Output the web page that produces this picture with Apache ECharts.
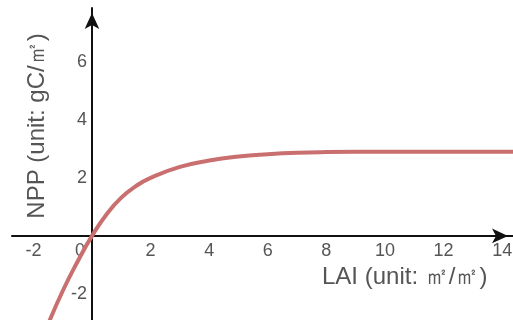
<!DOCTYPE html>
<html>
<head>
<meta charset="utf-8">
<script src="https://cdn.jsdelivr.net/npm/echarts@6/dist/echarts.min.js"></script>
<style>
  html, body { margin: 0; padding: 0; background: #fff; }
  #chart { width: 513px; height: 320px; }
</style>
</head>
<body>
<div id="chart"></div>
<script>
// NPP response to leaf area index (sampled points along the curve)
const lai = [-1.5, -1, -0.5, 0, 0.5, 1, 1.5, 2, 3, 4, 5, 6, 7, 8, 10, 12, 14.5];
const npp = [-3.05, -1.9, -0.9, 0, 0.75, 1.32, 1.72, 2.0, 2.38, 2.6, 2.74, 2.82, 2.87, 2.89, 2.9, 2.9, 2.9];

const xTicks = [-2, 0, 2, 4, 6, 8, 10, 12, 14];
const yTicks = [-2, 2, 4, 6];

const xTitle = 'LAI (unit: ㎡/㎡)';
const yTitle = 'NPP (unit: gC/㎡)';

const FONT = 'Liberation Sans, Arial, sans-serif';

const chart = echarts.init(document.getElementById('chart'), null, { renderer: 'canvas' });

const labelStyle = { color: '#555', fontSize: 18, fontFamily: FONT };

// plot area and value ranges; the axes cross at the origin
const GRID = { left: 12, right: 0, top: 8, bottom: 0 };
const X_RANGE = [-2.73, 14.37];
const Y_RANGE = [-2.9, 7.86];
const W = 513 - GRID.left - GRID.right;
const H = 320 - GRID.top - GRID.bottom;
const originX = GRID.left + W * (0 - X_RANGE[0]) / (X_RANGE[1] - X_RANGE[0]);
const originY = GRID.top + H * (Y_RANGE[1] - 0) / (Y_RANGE[1] - Y_RANGE[0]);

const arrowLine = {
  onZero: false,
  lineStyle: { color: '#111', width: 2 },
  symbol: ['none', 'arrow'],
  symbolSize: [11, 16],
  symbolOffset: [0, -5]
};

chart.setOption({
  animation: false,
  backgroundColor: '#fff',
  grid: Object.assign({ containLabel: false, outerBoundsMode: 'none' }, GRID),
  xAxis: {
    type: 'value',
    position: 'bottom',
    offset: -(320 - GRID.bottom - originY),
    min: X_RANGE[0],
    max: X_RANGE[1],
    axisLine: arrowLine,
    axisTick: { show: false },
    splitLine: { show: false },
    axisLabel: Object.assign({}, labelStyle, {
      customValues: xTicks,
      margin: 6,
      formatter: v => (v === 0 ? '{z|0}' : String(v)),
      rich: { z: Object.assign({}, labelStyle, { padding: [0, 24, 0, 0] }) }
    })
  },
  yAxis: {
    type: 'value',
    position: 'left',
    offset: -(originX - GRID.left),
    min: Y_RANGE[0],
    max: Y_RANGE[1],
    axisLine: arrowLine,
    axisTick: { show: false },
    splitLine: { show: false },
    axisLabel: Object.assign({}, labelStyle, {
      customValues: yTicks,
      margin: 5
    })
  },
  graphic: [
    {
      type: 'text',
      x: 322,
      y: 277,
      style: {
        text: xTitle, fill: '#555', fontSize: 24, fontFamily: FONT,
        align: 'left', verticalAlign: 'middle'
      }
    },
    {
      type: 'text',
      x: 37,
      y: 126,
      rotation: Math.PI / 2,
      style: {
        text: yTitle, fill: '#555', fontSize: 24, fontFamily: FONT,
        align: 'center', verticalAlign: 'middle'
      }
    }
  ],
  series: [{
    type: 'line',
    data: lai.map((x, i) => [x, npp[i]]),
    smooth: 0.5,
    showSymbol: false,
    clip: true,
    lineStyle: { color: '#c96f6f', width: 4 },
    z: 1
  }]
});
</script>
</body>
</html>
